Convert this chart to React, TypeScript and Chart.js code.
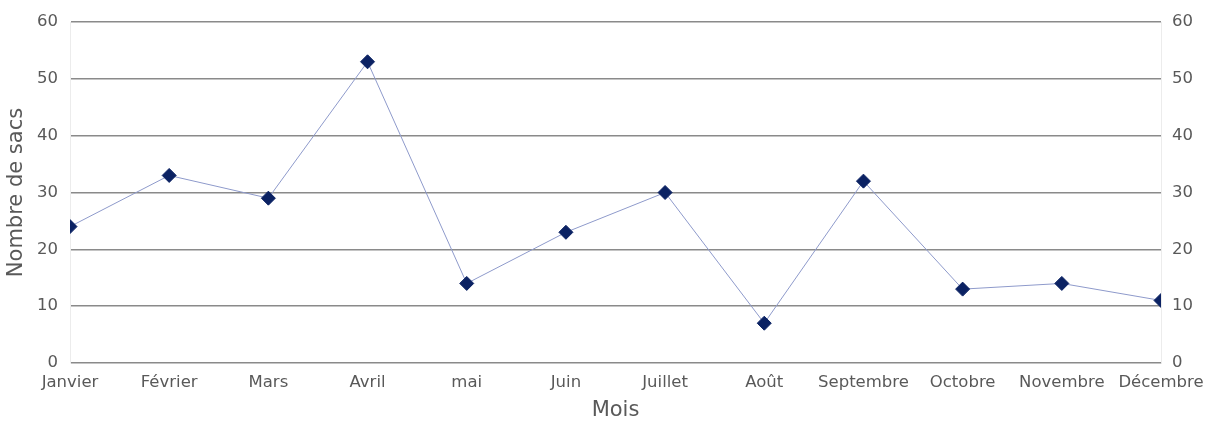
import React, { useEffect, useRef } from "react";
import { Chart, registerables } from "chart.js";

Chart.register(...registerables);

const categories = ["Janvier", "Février", "Mars", "Avril", "mai", "Juin", "Juillet", "Août", "Septembre", "Octobre", "Novembre", "Décembre"];
const sacs = [24, 33, 29, 53, 14, 23, 30, 7, 32, 13, 14, 11];
const yTitle = "Nombre de sacs";
const xTitle = "Mois";

export default function App() {
  const ref = useRef<HTMLCanvasElement | null>(null);
  useEffect(() => {
    if (!ref.current) return;
    const font = { family: "DejaVu Sans", size: 16.5 };
    const titleFont = { family: "DejaVu Sans", size: 21, lineHeight: 1 };
    const textColor = "#595959";
    const chart = new Chart(ref.current, {
      type: "line",
      data: {
        labels: categories,
        datasets: [
          {
            label: yTitle,
            data: sacs,
            borderColor: "#8e9acb",
            borderWidth: 1,
            pointStyle: "rectRot",
            pointRadius: 7,
            pointHoverRadius: 7,
            pointBackgroundColor: "#0b2263",
            pointBorderColor: "#0b2263",
            pointBorderWidth: 1,
            tension: 0,
            clip: 0,
            yAxisID: "y",
          },
        ],
      },
      options: {
        animation: false,
        responsive: true,
        maintainAspectRatio: false,
        layout: { padding: { top: 22, left: 0, right: 0, bottom: 0 } },
        plugins: { legend: { display: false }, tooltip: { enabled: false } },
        scales: {
          x: {
            type: "category",
            offset: false,
            grid: { display: false, drawTicks: false },
            border: { display: false },
            ticks: { font, color: textColor, padding: 10, maxRotation: 0, minRotation: 0, autoSkip: false },
            title: { display: true, text: xTitle, font: titleFont, color: textColor, padding: { top: 0, bottom: 0 } },
            afterFit: (s: any) => { s.height = 58; s.paddingLeft = 0; s.paddingRight = 0; },
          },
          y: {
            position: "left",
            min: 0,
            max: 60,
            grid: { color: "#8a8a8a", lineWidth: 1.5, drawTicks: false },
            border: { display: true, color: "#ececec", width: 1 },
            ticks: { stepSize: 10, font, color: textColor, padding: 12 },
            title: { display: true, text: yTitle, font: titleFont, color: textColor, padding: { top: 6, bottom: 0 } },
            afterFit: (s: any) => { s.width = 70; },
          },
          y2: {
            position: "right",
            min: 0,
            max: 60,
            grid: { display: false, drawTicks: false },
            border: { display: true, color: "#ececec", width: 1 },
            ticks: { stepSize: 10, font, color: textColor, padding: 11 },
            afterFit: (s: any) => { s.width = 46; },
          },
        },
      },
    });
    return () => chart.destroy();
  }, []);
  return (
    <div style={{ position: "absolute", left: 0, top: 0, width: 1207, height: 421, background: "#fff" }}>
      <canvas ref={ref} />
    </div>
  );
}
